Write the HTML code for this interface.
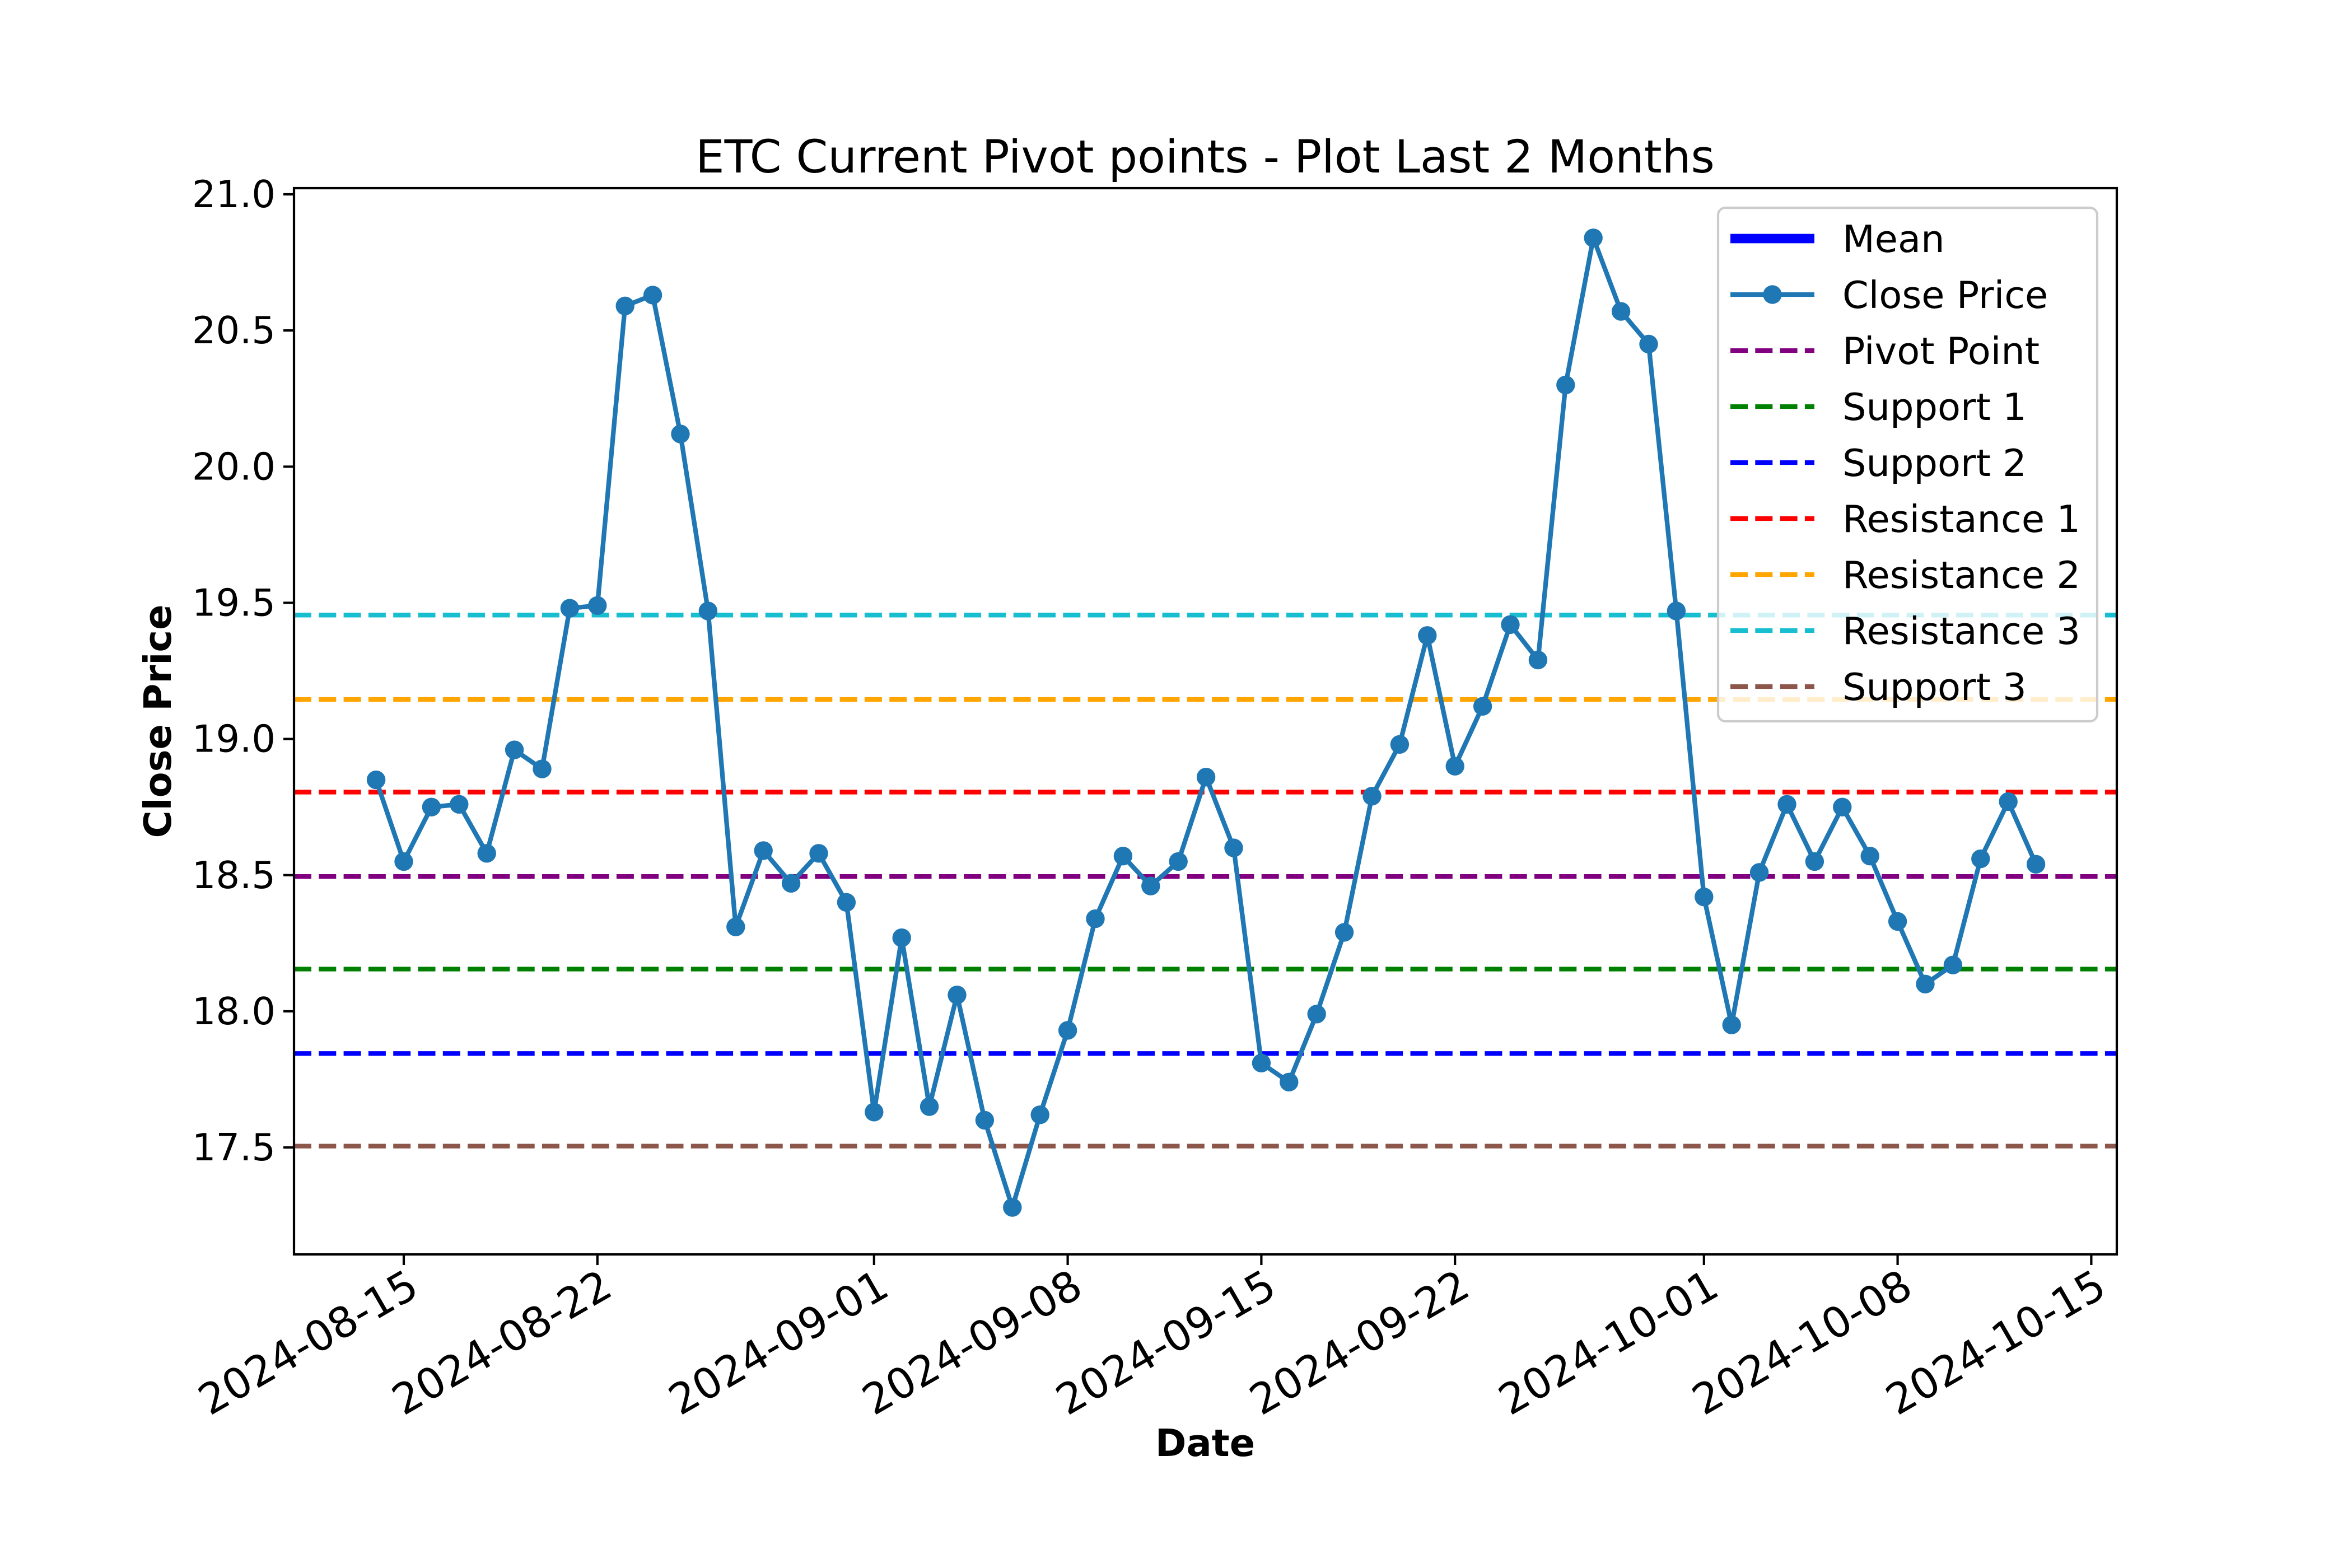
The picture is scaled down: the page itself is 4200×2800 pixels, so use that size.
<!DOCTYPE html>
<html><head><meta charset="utf-8"><style>body{margin:0;background:#fff}svg{display:block;font-family:"DejaVu Sans","Liberation Sans",sans-serif}</style></head>
<body>
<svg id="chart" width="4200" height="2800" viewBox="0 0 4200 2800" xmlns="http://www.w3.org/2000/svg">
<rect width="4200" height="2800" fill="#fff"/>
<text x="2152" y="308" font-size="81.5" text-anchor="middle">ETC Current Pivot points - Plot Last 2 Months</text>
<g id="plot"></g>
<rect x="525" y="336" width="3255" height="1904" fill="none" stroke="#000" stroke-width="4.2"/>
<text x="2152" y="2600" font-size="67" font-weight="bold" text-anchor="middle">Date</text>
<text transform="translate(305,1288) rotate(-90)" font-size="67" font-weight="bold" text-anchor="middle">Close Price</text>
<g id="legend"></g>
</svg>
<script>
const startDate = "2024-08-14";
const closePrices = [18.85,18.55,18.75,18.76,18.58,18.96,18.89,19.48,19.49,20.59,20.63,20.12,19.47,18.31,18.59,18.47,18.58,18.40,
17.63,18.27,17.65,18.06,17.60,17.28,17.62,17.93,18.34,18.57,18.46,18.55,18.86,18.60,17.81,17.74,17.99,18.29,18.79,18.98,19.38,18.90,19.12,19.42,19.29,20.30,20.84,20.57,20.45,19.47,
18.42,17.95,18.51,18.76,18.55,18.75,18.57,18.33,18.10,18.17,18.56,18.77,18.54];
const levelNames = ["Pivot Point","Support 1","Support 2","Resistance 1","Resistance 2","Resistance 3","Support 3"];
const levelValues = [18.495,18.155,17.845,18.805,19.145,19.455,17.505];
const levelColors = ["purple","green","blue","red","orange","#17becf","#8c564b"];
const yTicks = [17.5,18.0,18.5,19.0,19.5,20.0,20.5,21.0];
const xTickLabels = ["2024-08-15","2024-08-22","2024-09-01","2024-09-08","2024-09-15","2024-09-22","2024-10-01","2024-10-08","2024-10-15"];

const NS="http://www.w3.org/2000/svg";
const L=525,R=3780,T=336,B=2240;
const day0=Date.UTC(2024,7,15);
function dayOf(s){const p=s.split("-");return (Date.UTC(+p[0],+p[1]-1,+p[2])-day0)/86400000;}
function X(d){return 721+d*49.4;}
function Y(v){return 347+(21.0-v)*486.3;}
function mk(tag,attrs,parent){const e=document.createElementNS(NS,tag);for(const k in attrs)e.setAttribute(k,attrs[k]);parent.appendChild(e);return e;}
const svg=document.getElementById("chart");
const plot=document.getElementById("plot");

levelValues.forEach((v,i)=>{
  const ln=mk("line",{x1:L,x2:R,y1:Y(v),y2:Y(v),stroke:levelColors[i],"stroke-width":8.3,"stroke-dasharray":"31 13.3"},plot);
  
  
});
const s0=dayOf(startDate);
const pts=closePrices.map((v,i)=>X(s0+i).toFixed(1)+","+Y(v).toFixed(1)).join(" ");
const pl=mk("polyline",{points:pts,fill:"none",stroke:"#1f77b4","stroke-width":8.3,"stroke-linejoin":"round"},plot);


closePrices.forEach((v,i)=>{
  const c=mk("circle",{cx:X(s0+i),cy:Y(v),r:16.7,fill:"#1f77b4"},plot);
  
  
});
yTicks.forEach(v=>{
  const t=mk("line",{x1:L-19,x2:L,y1:Y(v),y2:Y(v),stroke:"#000","stroke-width":4.2},svg);
  
  
  const tx=mk("text",{x:L-33,y:Y(v)+23,"font-size":67,"text-anchor":"end"},svg);
  tx.textContent=v.toFixed(1);
  
  
});
xTickLabels.forEach(s=>{
  const x=X(dayOf(s));
  const t=mk("line",{x1:x,x2:x,y1:B,y2:B+19,stroke:"#000","stroke-width":4.2},svg);
  
  
  const tx=mk("text",{transform:`translate(${x+4},${B+24}) rotate(-30)`,"font-size":75,"text-anchor":"end",dy:"0.72em"},svg);
  tx.textContent=s;
  
  
});
const lg=document.getElementById("legend");
const box=mk("rect",{x:3068,y:371,width:677,height:917,rx:13,fill:"#fff","fill-opacity":0.8,stroke:"#ccc","stroke-width":4.2},lg);


const entries=["Mean","Close Price"].concat(levelNames);
entries.forEach((n,i)=>{
  const y=426+i*100;
  const g=mk("g",{},lg);
  
  
  if(i===0){mk("line",{x1:3090,x2:3240,y1:y,y2:y,stroke:"blue","stroke-width":16.7},g);}
  else if(i===1){mk("line",{x1:3090,x2:3240,y1:y,y2:y,stroke:"#1f77b4","stroke-width":8.3},g);mk("circle",{cx:3165,cy:y,r:16.7,fill:"#1f77b4"},g);}
  else{mk("line",{x1:3090,x2:3240,y1:y,y2:y,stroke:levelColors[i-2],"stroke-width":8.3,"stroke-dasharray":"31 13.3"},g);}
  const t=mk("text",{x:3290,y:y+24,"font-size":67},g);
  t.textContent=n;
});
</script>
</body></html>
